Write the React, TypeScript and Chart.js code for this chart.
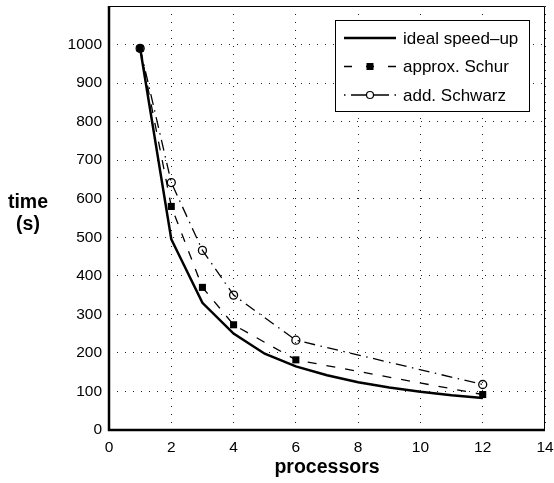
import React, { useEffect, useRef } from "react";
import { Chart, registerables } from "chart.js";

Chart.register(...registerables);

// ---- data ----
const idealProcs = [1, 2, 3, 4, 5, 6, 7, 8, 9, 10, 11, 12];
const idealTime = [990, 495, 330, 250, 198, 165, 142, 124, 110, 99, 90, 83];
const schurProcs = [1, 2, 3, 4, 6, 12];
const schurTime = [990, 580, 370, 273, 182, 92];
const schwarzProcs = [1, 2, 3, 4, 6, 12];
const schwarzTime = [990, 642, 466, 350, 233, 118];
const seriesLabels = ["ideal speed\u2013up", "approx. Schur", "add. Schwarz"];
const xTitle = "processors";
const yTitleLines = ["time", "(s)"];
const xMin = 0, xMax = 14, xStep = 2;
const yMin = 0, yMax = 1100, yStep = 100;

const FONT = "'Liberation Sans', Arial, Helvetica, sans-serif";

const toPoints = (xs: number[], ys: number[]) => xs.map((x, i) => ({ x, y: ys[i] }));

const boxPlugin = {
  id: "boxAndTitles",
  afterDatasetsDraw(chart: any) {
    const { ctx, chartArea } = chart;
    const { left, right, top, bottom } = chartArea;
    ctx.save();
    ctx.setLineDash([]);
    ctx.strokeStyle = "#000";
    // thin top/right box lines
    ctx.lineWidth = 1;
    ctx.beginPath();
    ctx.moveTo(left, top + 0.5);
    ctx.lineTo(right - 0.5, top + 0.5);
    ctx.lineTo(right - 0.5, bottom);
    ctx.stroke();
    // thick left/bottom axes
    ctx.lineWidth = 2.5;
    ctx.beginPath();
    ctx.moveTo(left, top);
    ctx.lineTo(left, bottom);
    ctx.lineTo(right, bottom);
    ctx.stroke();

    // axis titles
    ctx.fillStyle = "#000";
    ctx.font = `bold 19.5px ${FONT}`;
    ctx.textAlign = "center";
    ctx.textBaseline = "alphabetic";
    ctx.fillText(xTitle, (left + right) / 2, bottom + 43);
    ctx.fillText(yTitleLines[0], 28, 208);
    ctx.fillText(yTitleLines[1], 28, 230);

    // legend
    const bx = right - 209.5, by = top + 14.5, bw = 194, bh = 91;
    ctx.fillStyle = "#fff";
    ctx.fillRect(bx, by, bw, bh);
    ctx.strokeStyle = "#000";
    ctx.lineWidth = 1;
    ctx.strokeRect(bx, by, bw, bh);
    const x0 = bx + 8.5, x1 = x0 + 52, xm = (x0 + x1) / 2;
    const dashes = [[], [8, 14], [1.5, 5.5, 38, 5.5, 1.5]];
    const widths = [2.5, 1.3, 1.3];
    ctx.font = `17px ${FONT}`;
    ctx.textAlign = "left";
    ctx.textBaseline = "middle";
    seriesLabels.forEach((label, i) => {
      const y = by + 17.5 + i * 28.5;
      ctx.strokeStyle = "#000";
      ctx.lineWidth = widths[i];
      ctx.setLineDash(dashes[i]);
      ctx.beginPath();
      ctx.moveTo(x0, y);
      ctx.lineTo(x1, y);
      ctx.stroke();
      ctx.setLineDash([]);
      if (i === 1) {
        ctx.fillStyle = "#000";
        ctx.fillRect(xm - 3.5, y - 3.5, 7, 7);
      } else if (i === 2) {
        ctx.fillStyle = "#fff";
        ctx.beginPath();
        ctx.arc(xm, y, 3.5, 0, Math.PI * 2);
        ctx.fill();
        ctx.lineWidth = 1.2;
        ctx.stroke();
      }
      ctx.fillStyle = "#000";
      ctx.fillText(label, x1 + 7, y + 1);
    });
    ctx.restore();
  },
};

const zeroPad = (s: any) => {
  s.paddingLeft = 0;
  s.paddingRight = 0;
  s.paddingTop = 0;
  s.paddingBottom = 0;
};

export default function App() {
  const ref = useRef<HTMLCanvasElement | null>(null);
  useEffect(() => {
    if (!ref.current) return;
    const chart = new Chart(ref.current, {
      type: "line",
      data: {
        datasets: [
          {
            label: seriesLabels[0],
            data: toPoints(idealProcs, idealTime),
            borderColor: "#000",
            borderWidth: 2.5,
            pointRadius: 0,
            tension: 0,
          },
          {
            label: seriesLabels[1],
            data: toPoints(schurProcs, schurTime),
            borderColor: "#000",
            borderWidth: 1.3,
            borderDash: [9, 10],
            pointStyle: "rect",
            pointRadius: 5,
            pointBackgroundColor: "#000",
            pointBorderColor: "#000",
            pointBorderWidth: 0,
            tension: 0,
          },
          {
            label: seriesLabels[2],
            data: toPoints(schwarzProcs, schwarzTime),
            borderColor: "#000",
            borderWidth: 1.3,
            borderDash: [11, 5.5, 1.5, 5.5],
            pointStyle: "circle",
            pointRadius: 4,
            pointBackgroundColor: "rgba(0,0,0,0)",
            pointBorderColor: "#000",
            pointBorderWidth: 1.3,
            tension: 0,
          },
        ],
      },
      options: {
        animation: false,
        responsive: false,
        devicePixelRatio: 1,
        clip: false,
        layout: { padding: { top: 6, right: 9, left: 0, bottom: 0 } },
        plugins: { legend: { display: false }, tooltip: { enabled: false } },
        scales: {
          x: {
            type: "linear",
            min: xMin,
            max: xMax,
            afterFit: (s: any) => { s.height = 53; zeroPad(s); },
            afterBuildTicks: (s: any) => {
              const t = [];
              for (let v = xMin; v <= xMax; v += xStep) t.push({ value: v });
              s.ticks = t;
            },
            ticks: { color: "#000", font: { family: FONT, size: 15.5 }, padding: 8, maxRotation: 0 },
            grid: { color: "#222", lineWidth: 1, drawTicks: false },
            border: { display: false, dash: [1, 7] },
            title: { display: false },
          },
          y: {
            type: "linear",
            min: yMin,
            max: yMax,
            afterFit: (s: any) => { s.width = 109; zeroPad(s); },
            afterBuildTicks: (s: any) => {
              const t = [];
              for (let v = yMin; v <= yMax; v += yStep) t.push({ value: v });
              s.ticks = t;
            },
            ticks: {
              color: "#000",
              font: { family: FONT, size: 15.5 },
              padding: 7,
              callback: (v: any) => (v === yMax ? "" : String(v)),
            },
            grid: { color: "#222", lineWidth: 1, drawTicks: false },
            border: { display: false, dash: [1, 7] },
            title: { display: false },
          },
        },
      },
      plugins: [boxPlugin],
    });
    return () => chart.destroy();
  }, []);
  return (
    <div style={{ position: "fixed", left: 0, top: 0, width: 554, height: 483, background: "#fff" }}>
      <canvas ref={ref} width={554} height={483} style={{ display: "block" }} />
    </div>
  );
}
